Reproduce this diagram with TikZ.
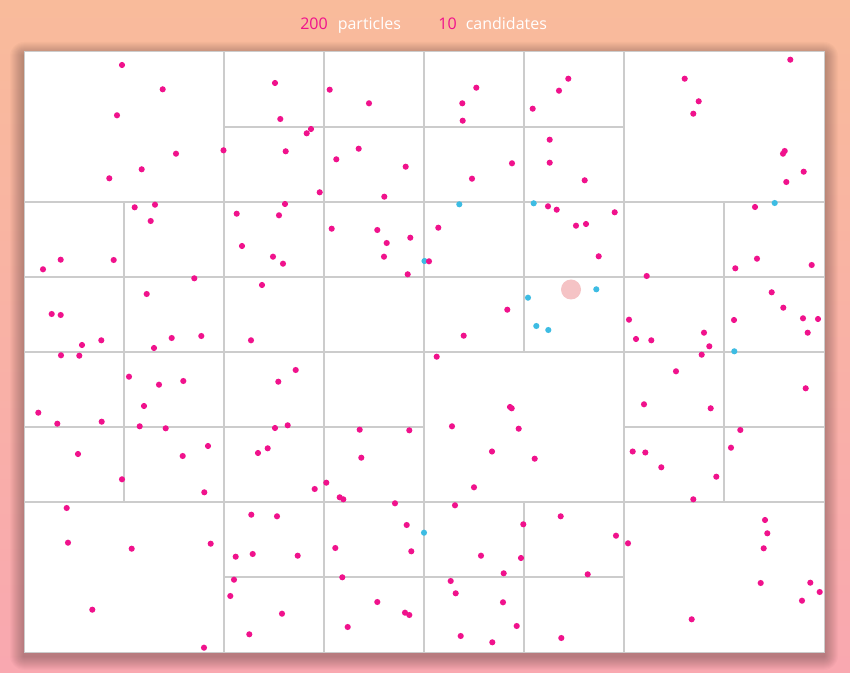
\documentclass[tikz,border=0pt]{standalone}
\usepackage{fontspec}
\setmainfont{Open Sans}
\definecolor{bgtop}{HTML}{F9BB9B}
\definecolor{bgbot}{HTML}{F9A8B0}
\definecolor{pk}{HTML}{F0128C}
\definecolor{cy}{HTML}{3DBCE3}
\definecolor{gridc}{HTML}{CCCCCC}
\definecolor{hilite}{HTML}{F5C3C5}
\tikzset{
  gridline/.style={draw=gridc, line width=1.5pt},
  particle/.style={fill=pk},
  candidate/.style={fill=cy},
  numtxt/.style={text=pk, font=\fontsize{12}{14}\selectfont, inner sep=0pt},
  labtxt/.style={text=white, font=\fontsize{12}{14}\selectfont, inner sep=0pt}
}
\begin{document}
\begin{tikzpicture}[x=0.75pt,y=-0.75pt]
\useasboundingbox (0,0) rectangle (850,673);
\shade[top color=bgtop, bottom color=bgbot] (0,0) rectangle (850,673);
% soft shadow
\foreach \k in {1,...,14}{
  \fill[black, opacity=0.018, rounded corners=\k*0.75pt] (24-\k,52-\k+4) rectangle (824+\k,652+\k+4);
}
\fill[white] (24,52) rectangle (824,652);
% quadtree lines
\draw[gridline] (424,52) -- (424,652);
\draw[gridline] (224,52) -- (224,652);
\draw[gridline] (624,52) -- (624,652);
\draw[gridline] (324,52) -- (324,652);
\draw[gridline] (124,202) -- (124,502);
\draw[gridline] (524,52) -- (524,352);
\draw[gridline] (524,502) -- (524,652);
\draw[gridline] (724,202) -- (724,502);
\draw[gridline] (24,352) -- (824,352);
\draw[gridline] (24,202) -- (824,202);
\draw[gridline] (24,502) -- (824,502);
\draw[gridline] (224,127) -- (624,127);
\draw[gridline] (24,277) -- (824,277);
\draw[gridline] (24,427) -- (424,427);
\draw[gridline] (624,427) -- (824,427);
\draw[gridline] (224,577) -- (624,577);
\draw[draw=gridc, line width=0.75pt] (24,52) rectangle (824,652);
% highlight
\fill[hilite] (571,289.5) circle (7.5pt);
% particles
\foreach \x/\y in {
122/65, 162.7/89.3, 117/115.3, 176/153.7, 223.5/150.3, 141.7/169.3, 109.3/178.3, 134.7/207.3, 155/204.7, 150.7/221,
275/83, 329.7/89.7, 369/103.3, 280.3/119, 311/129, 306.7/133.3, 285.7/151.3, 358.7/148.7, 336.3/159.3, 405.7/166.7,
319.7/192.3, 384.3/196.7, 285/204, 236.7/213.7, 279/215.3, 242/246, 331.7/228.7, 377.3/230, 386.7/243, 410.3/237.7,
476.3/87.7, 462.3/103.3, 462.7/120.7, 568.3/78.7, 559/90.7, 532.7/108.7, 549.7/139.7, 549.7/162.7, 512/163.3, 472/178.7,
584.7/180.3, 548/206.3, 556.7/209.7, 614.7/212.3, 576/225.7, 586/224, 438.3/227.7,
790.3/59.7, 684.7/78.7, 698.7/101.3, 693.3/113.7, 784.7/151, 783/153.7, 803.7/171.7, 786.3/182, 755/207,
60.7/259.7, 43/269.3, 113.7/260, 194.3/278.3, 146.7/294, 51.7/314, 60.7/315, 82/345, 101.3/340.3, 171.7/338,
201.3/336, 154/348, 61/355.3, 79.3/355.7, 129/376.7, 159/384.7, 183.3/381, 144/406, 38.3/412.7, 57.3/423.7,
101.7/421.7, 139.7/426.3, 165.7/428.3, 208/446, 78/454,
273/256.7, 283/263.7, 384/256.7, 407.7/274.3, 262/285, 251/340.3, 295.7/370, 278.3/381.7, 275/428, 287.7/425.3,
359.7/429.7, 409.3/430.3, 267.7/448.3, 258/453,
598.7/256.3, 507.3/309.7, 463.7/335.7, 436.7/356.7, 510/407, 511.7/408.3, 452/426.3, 518.7/428.7, 492/451.5,
757/258.7, 735.3/268.3, 811.7/265, 646.7/276, 771.7/292.3, 783.3/307.7, 629/319.7, 734/320, 803/318.3, 818/319,
807.7/332.7, 704/332.7, 636/339, 651.3/340.3, 709.3/346.3, 701.7/354.7, 676/371.3, 805.7/388.3, 644/404.3, 710.7/408.3,
740.3/430, 731/447.7, 632.7/451.5, 645.3/452.5,
122/479.3, 182.7/456, 204.3/492.3, 66.7/508, 68/542.7, 131.7/548.7, 210.7/543.7, 92.3/609.7, 204/647.7,
361.3/457.7, 326.3/482.7, 314.7/489, 339.7/497.3, 343.3/499.3, 395/503.3, 251.3/514.7, 277/516.3, 406.7/525, 335.3/548,
411.3/551.3, 235.7/556.7, 252.7/554, 297.7/555.7, 234/579.7, 342.3/577.3, 230.3/596, 377.3/602, 282/613.7, 405/612.7,
409.3/615, 347.7/627, 249.3/634.3,
534.7/458.7, 474/487.3, 455/505.3, 560.7/516.3, 523.3/524.3, 616/535.7, 481/555.7, 521/558, 503.7/573.3, 587.7/574.3,
450.7/581, 455.7/593.3, 503/602.3, 516.7/626, 460.7/636, 492.3/642.3, 561.3/638,
661.3/467.3, 716.3/476.7, 693.3/499.3, 765/520, 767.3/533.3, 628/543.3, 763.7/548.3, 760.7/583, 810.3/582.7, 819.7/592,
802/600.7, 691.7/619.3}
{ \fill[particle] (\x,\y) circle (2.3pt); }
% candidates
\foreach \x/\y in {459.3/204.3, 533.7/203.3, 774.7/203, 424.5/261, 528/297.7, 596.3/289.3, 536.3/326, 548.3/330, 734.3/351.3, 424/532.7}
{ \fill[candidate] (\x,\y) circle (2.3pt); }
\fill[particle] (429,261.3) circle (2.3pt);
% title
\node[numtxt, anchor=base east] (np) at (328,30) {200};
\node[labtxt, anchor=base west] (lp) at (337.5,30) {particles};
\node[numtxt, anchor=base east] (nc) at (457,30) {10};
\node[labtxt, anchor=base west] (lc) at (465.5,30) {candidates};
\end{tikzpicture}
\end{document}
